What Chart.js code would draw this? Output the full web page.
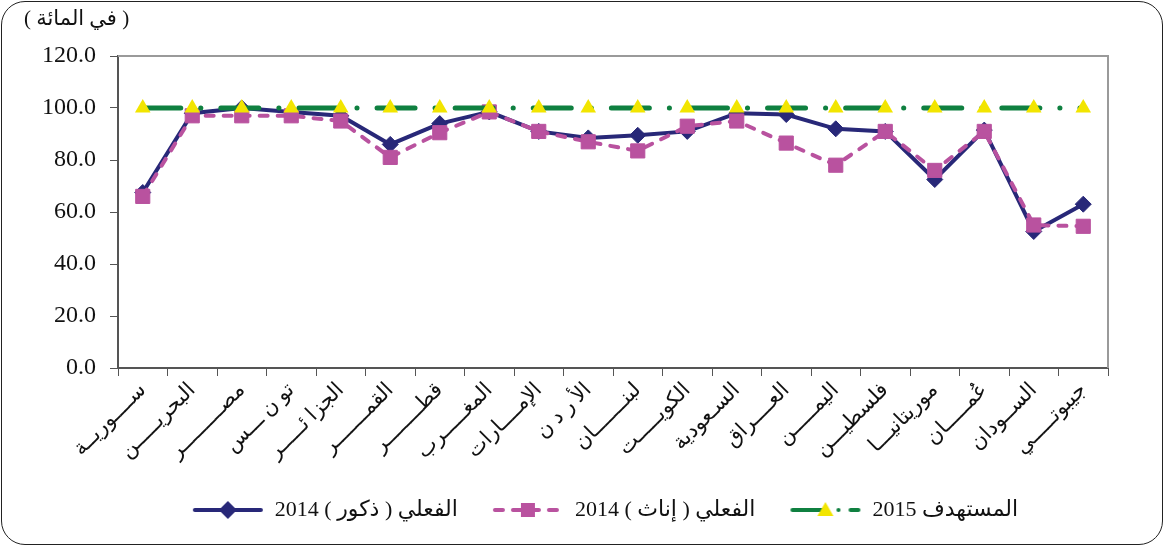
<!DOCTYPE html>
<html>
<head>
<meta charset="utf-8">
<script src="https://cdn.jsdelivr.net/npm/chart.js@4"></script>
<style>
html, body { margin: 0; padding: 0; background: #fff; }
#wrap { position: relative; width: 1165px; height: 547px; }
#frame { position: absolute; left: 1px; top: 1px; width: 1160px; height: 542px; border: 1.5px solid #222; border-radius: 24px; pointer-events: none; }
</style>
</head>
<body>
<div id="wrap">
  <canvas id="myChart" width="1165" height="547"></canvas>
  <div id="frame"></div>
</div>
<script>
// البيانات
const countries = ['ســــوريــة', 'البحريـــــن', 'مصـــــــــر', 'تو ن ـــس', 'الجزا ئـــــر', 'القمـــــــر', 'قطــــــــر', 'المغـــــرب', 'الإمــــارات', 'الأ ر د ن', 'لبنـــــــان', 'الكويـــــت', 'السـعودية', 'العــــراق', 'اليمـــــن', 'فلسطيـــن', 'موريتانيـــا', 'عُمـــــان', 'الســودان', 'جيبوتـــــي'];
const males = [67.5, 98, 100, 98.5, 97, 86, 94, 98.5, 91, 88.5, 89.5, 91, 98, 97.5, 92, 91, 72.5, 91.5, 52.5, 63];
const females = [66, 97, 97, 97, 95, 81, 90.5, 98.5, 91, 87, 83.5, 93, 95, 86.5, 78, 91, 76, 91, 55, 54.5];
const target = [100, 100, 100, 100, 100, 100, 100, 100, 100, 100, 100, 100, 100, 100, 100, 100, 100, 100, 100, 100];
const seriesNames = ['الفعلي ( ذكور ) 2014', 'الفعلي ( إناث ) 2014', 'المستهدف 2015'];
const yTitle = '( في المائة )';

const NAVY = '#282878';
const PINK = '#B9529F';
const GREEN = '#0F8040';
const YELLOW = '#F2E500';
const FONT = '"Liberation Serif", "DejaVu Sans", serif';

// صور عينات وسيلة الإيضاح (خط + علامة) مع فراغ شفاف على اليسار
const GAP = 22;
function legendSample(color, dash, marker, markerColor) {
    const c = document.createElement('canvas');
    c.width = 72 + GAP; c.height = 22;
    const g = c.getContext('2d');
    g.translate(GAP, 0);
    g.strokeStyle = color;
    g.lineWidth = 4;
    g.lineCap = 'round';
    g.setLineDash(dash);
    g.beginPath(); g.moveTo(3, 11); g.lineTo(69, 11); g.stroke();
    g.setLineDash([]);
    g.fillStyle = markerColor;
    g.beginPath();
    if (marker === 'diamond') {
        g.moveTo(36, 2); g.lineTo(45, 11); g.lineTo(36, 20); g.lineTo(27, 11);
    } else if (marker === 'square') {
        g.rect(29, 4, 14, 14);
    } else {
        g.moveTo(36, 3); g.lineTo(44, 17); g.lineTo(28, 17);
    }
    g.closePath(); g.fill();
    return c;
}
const samples = [
    legendSample(NAVY, [], 'diamond', NAVY),
    legendSample(PINK, [8, 10], 'square', PINK),
    legendSample(GREEN, [30, 16, 0.1, 12], 'triangle', YELLOW)
];

const frame = {
    id: 'frame',
    afterLayout(chart) {
        // توسيط وسيلة الإيضاح كما في الأصل
        chart.legend.left += 40;
        chart.legend.right += 40;
    },
    beforeDatasetsDraw(chart) {
        const {ctx, chartArea: a} = chart;
        ctx.save();
        ctx.strokeStyle = '#9a9a9a';
        ctx.lineWidth = 2;
        ctx.beginPath();
        ctx.moveTo(a.left, a.top); ctx.lineTo(a.right, a.top); ctx.lineTo(a.right, a.bottom);
        ctx.stroke();
        ctx.restore();
    },
    afterDraw(chart) {
        const ctx = chart.ctx;
        ctx.save();
        ctx.font = '21px ' + FONT;
        ctx.fillStyle = '#111';
        ctx.textAlign = 'left';
        ctx.textBaseline = 'middle';
        ctx.fillText(yTitle, 24, 19);
        ctx.restore();
    }
};

const ctx = document.getElementById('myChart').getContext('2d');
const myChart = new Chart(ctx, {
    type: 'line',
    data: {
        labels: countries,
        datasets: [{
            label: seriesNames[0],
            data: males,
            borderColor: NAVY,
            backgroundColor: NAVY,
            borderWidth: 4,
            pointStyle: 'rectRot',
            pointRadius: 8,
            pointBorderWidth: 1,
            order: 3
        }, {
            label: seriesNames[1],
            data: females,
            borderColor: PINK,
            backgroundColor: PINK,
            borderWidth: 4,
            borderDash: [8, 10],
            borderCapStyle: 'round',
            pointStyle: 'rect',
            pointRadius: 10,
            pointBorderWidth: 1,
            order: 2
        }, {
            label: seriesNames[2],
            data: target,
            borderColor: GREEN,
            backgroundColor: YELLOW,
            borderWidth: 5,
            borderDash: [38, 20, 0.1, 20],
            borderCapStyle: 'round',
            pointStyle: 'triangle',
            pointRadius: 9,
            pointBorderWidth: 0,
            pointBorderColor: YELLOW,
            order: 1
        }]
    },
    options: {
        responsive: false,
        animation: false,
        layout: { padding: { top: 56, right: 57, bottom: 16, left: 0 } },
        plugins: {
            tooltip: { enabled: false },
            legend: {
                position: 'bottom',
                labels: {
                    usePointStyle: true,
                    pointStyleWidth: 72 + GAP,
                    padding: 12,
                    color: '#111',
                    font: { family: FONT, size: 22 },
                    sort: (a, b) => a.datasetIndex - b.datasetIndex,
                    generateLabels(chart) {
                        const items = Chart.defaults.plugins.legend.labels.generateLabels(chart);
                        items.forEach(it => { it.pointStyle = samples[it.datasetIndex]; });
                        return items;
                    }
                }
            }
        },
        scales: {
            x: {
                offset: true,
                afterFit(scale) { scale.height = 119; },
                grid: { offset: true, drawOnChartArea: false, tickLength: 8, color: '#555', lineWidth: 1 },
                border: { color: '#555', width: 2 },
                ticks: {
                    minRotation: 45,
                    maxRotation: 45,
                    autoSkip: false,
                    padding: 2,
                    color: '#111',
                    font: { family: FONT, size: 21 }
                }
            },
            y: {
                min: 0,
                max: 120,
                afterFit(scale) { scale.width = 118; },
                grid: { drawOnChartArea: false, tickLength: 8, color: '#555', lineWidth: 1 },
                border: { color: '#555', width: 2 },
                ticks: {
                    stepSize: 20,
                    padding: 14,
                    color: '#111',
                    font: { family: FONT, size: 24 },
                    callback: v => v.toFixed(1)
                }
            }
        }
    },
    plugins: [frame]
});
</script>
</body>
</html>
